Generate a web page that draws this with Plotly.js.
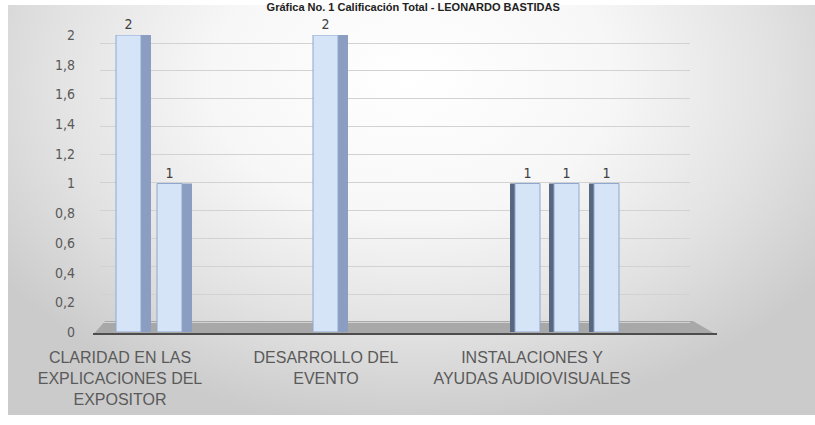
<!DOCTYPE html>
<html>
<head>
<meta charset="utf-8">
<script src="https://cdn.plot.ly/plotly-3.0.1.min.js"></script>
<style>
  html, body { margin: 0; padding: 0; background: #ffffff; }
  #wrap { position: relative; width: 815px; height: 425px; overflow: hidden; }
  #bg { position: absolute; left: 8px; top: 5px; width: 807px; height: 410px;
        background: radial-gradient(ellipse 62% 85% at 50% 18%, #ffffff 0%, #f7f7f7 40%, #e2e2e2 72%, #cbcbcb 100%); }
  #chart { position: absolute; left: 0; top: 0; width: 815px; height: 425px; }
</style>
</head>
<body>
<div id="wrap"><div id="bg"></div><div id="chart"></div></div>
<script>
// ---- data ----
const categories = [
  'CLARIDAD EN LAS<br>EXPLICACIONES DEL<br>EXPOSITOR',
  'DESARROLLO DEL<br>EVENTO',
  'INSTALACIONES Y<br>AYUDAS AUDIOVISUALES'
];
const serie1 = [2, 2, 1];
const serie2 = [1, null, 1];
const serie3 = [null, null, 1];
const yTickValues = [0, 0.2, 0.4, 0.6, 0.8, 1, 1.2, 1.4, 1.6, 1.8, 2];
const chartTitle = 'Gráfica No. 1 Calificación Total - LEONARDO BASTIDAS';

// ---- style / placement (3D look) ----
const PX_PER_CAT = 206;                      // pixels per category unit
const frontOffsetPx = [[-4, -13, -17], [37, 0, 22], [0, 0, 62]];
const frontWidthPx = 25;
const sideIsRight = [true, true, false];
const sideWidthRightPx = 10, sideWidthLeftPx = 5;
const frontColor = '#d6e4f8', frontLine = '#8ea8d0';
const sideColorRight = '#8b9ec2', sideColorLeft = '#57677f';
const fontFam = '"Liberation Sans Narrow", "DejaVu Sans Condensed", "Liberation Sans", sans-serif';
const labelFam = '"Liberation Sans", Arial, sans-serif';

function seriesTraces(values, offPx, name) {
  const u = v => v / PX_PER_CAT;
  const fOff = offPx.map(u);
  const fW = categories.map(() => u(frontWidthPx));
  const sOff = offPx.map((o, i) => sideIsRight[i] ? u(o + frontWidthPx) : u(o - sideWidthLeftPx));
  const sW = categories.map((c, i) => u(sideIsRight[i] ? sideWidthRightPx : sideWidthLeftPx));
  const sCol = categories.map((c, i) => sideIsRight[i] ? sideColorRight : sideColorLeft);
  const side = {
    type: 'bar', x: categories, y: values, yaxis: 'y2',
    offset: sOff, width: sW,
    marker: { color: sCol, line: { width: 0 } },
    hoverinfo: 'skip', showlegend: false
  };
  const front = {
    type: 'bar', name: name, x: categories, y: values, yaxis: 'y2',
    offset: fOff, width: fW,
    marker: { color: frontColor, line: { color: frontLine, width: 1 } },
    text: values.map(v => v === null ? '' : String(v)),
    textposition: 'outside', cliponaxis: false,
    textfont: { family: fontFam, size: 14, color: '#404040' },
    showlegend: false
  };
  return [side, front];
}

// helper (invisible) trace to carry the back-wall gridlines axis
const gridHelper = {
  type: 'scatter', mode: 'markers', x: categories, y: serie1, yaxis: 'y',
  marker: { opacity: 0 }, hoverinfo: 'skip', showlegend: false
};

const traces = [gridHelper]
  .concat(seriesTraces(serie1, frontOffsetPx[0], 'Serie 1'))
  .concat(seriesTraces(serie2, frontOffsetPx[1], 'Serie 2'))
  .concat(seriesTraces(serie3, frontOffsetPx[2], 'Serie 3'));

const L = 100, R = 690, T = 35, B = 332;
const W = 815, H = 425;
const px = v => (v - L) / (R - L);
const py = v => (B - v) / (B - T);

const layout = {
  width: W, height: H,
  margin: { l: L, r: W - R, t: T, b: H - B, pad: 0 },
  paper_bgcolor: 'rgba(0,0,0,0)', plot_bgcolor: 'rgba(0,0,0,0)',
  separators: ',.',
  barmode: 'overlay',
  showlegend: false,
  title: {
    text: chartTitle,
    font: { family: '"Liberation Sans", Arial, sans-serif', size: 11, weight: 'bold', color: '#222222' },
    x: 0.507, xref: 'container', xanchor: 'center',
    y: 0.992, yref: 'container', yanchor: 'top', pad: { t: 0, b: 0 }
  },
  xaxis: {
    type: 'category',
    range: [-(120 - L) / PX_PER_CAT, (R - 120) / PX_PER_CAT],
    showgrid: false, zeroline: false, showline: false, ticks: '',
    tickfont: { family: labelFam, size: 16, color: '#5a5a5a' },
    ticklabelstandoff: 14
  },
  yaxis: {
    range: [-10 / 139.5, 2 + 8 / 139.5],
    tickvals: yTickValues,
    showticklabels: false, ticks: '',
    showgrid: true, gridcolor: '#d2d2d2', gridwidth: 1,
    zeroline: false, showline: false, fixedrange: true
  },
  yaxis2: {
    overlaying: 'y', side: 'left', anchor: 'x',
    range: [0, 2], tickvals: yTickValues,
    showgrid: false, zeroline: false, showline: false, ticks: '',
    tickfont: { family: fontFam, size: 14, color: '#595959' },
    ticklabelstandoff: 24
  },
  shapes: [
    { type: 'path', xref: 'paper', yref: 'paper', layer: 'below',
      path: `M ${px(105)} ${py(321)} L ${px(693)} ${py(321)} L ${px(717)} ${py(335)} L ${px(93)} ${py(335)} Z`,
      fillcolor: '#a8a8a8', line: { width: 0 } },
    { type: 'line', xref: 'paper', yref: 'paper', layer: 'below',
      x0: px(93), y0: py(334), x1: px(717), y1: py(334),
      line: { color: '#4d4d4d', width: 2 } }
  ]
};

Plotly.newPlot('chart', traces, layout, { displayModeBar: false, staticPlot: true });
</script>
</body>
</html>
